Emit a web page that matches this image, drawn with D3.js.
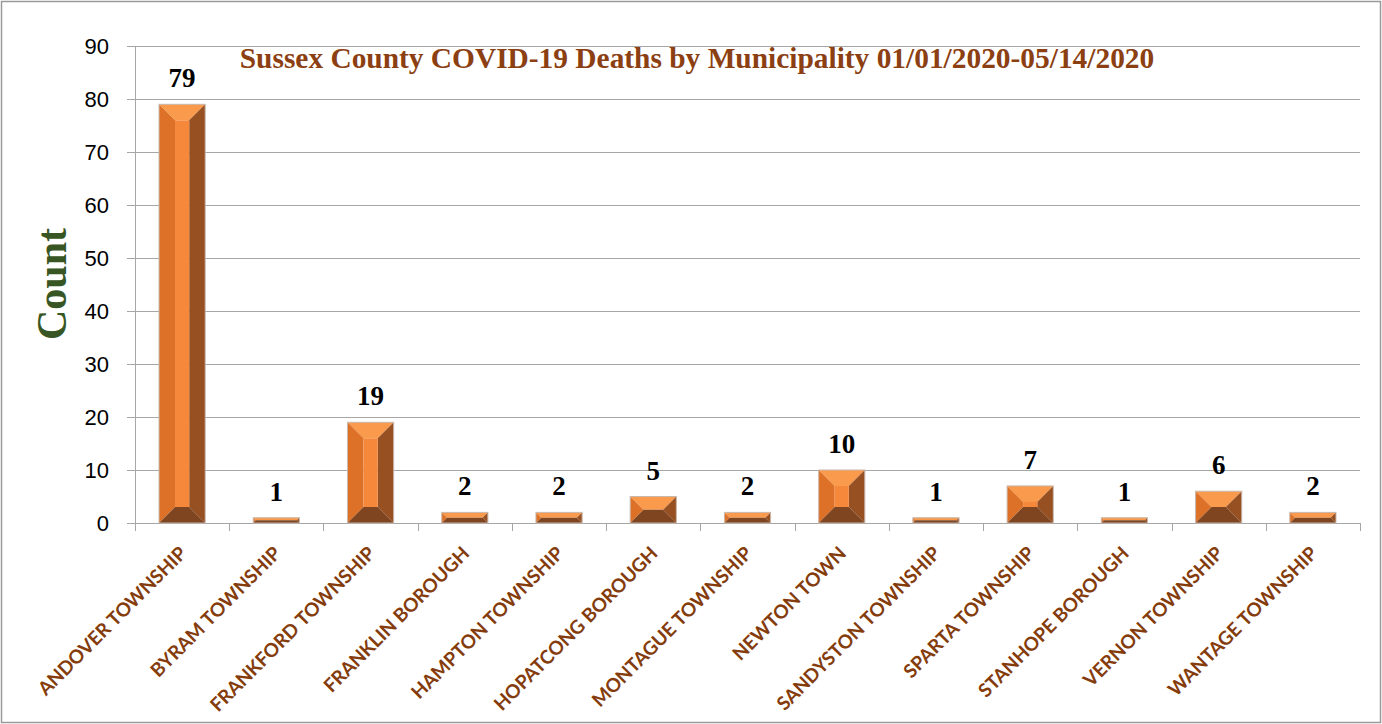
<!DOCTYPE html>
<html>
<head>
<meta charset="utf-8">
<script src="https://cdn.jsdelivr.net/npm/d3@7"></script>
<style>
  html, body { margin: 0; padding: 0; background: #fff; }
  svg { display: block; }
</style>
</head>
<body>
<svg id="chart" width="1382" height="724"></svg>
<script>
const categories = [
  "ANDOVER TOWNSHIP", "BYRAM TOWNSHIP", "FRANKFORD TOWNSHIP", "FRANKLIN BOROUGH",
  "HAMPTON TOWNSHIP", "HOPATCONG BOROUGH", "MONTAGUE TOWNSHIP", "NEWTON TOWN",
  "SANDYSTON TOWNSHIP", "SPARTA TOWNSHIP", "STANHOPE BOROUGH", "VERNON TOWNSHIP",
  "WANTAGE TOWNSHIP"
];
const deaths = [79, 1, 19, 2, 2, 5, 2, 10, 1, 7, 1, 6, 2];
const yTicks = [0, 10, 20, 30, 40, 50, 60, 70, 80, 90];
const chartTitle = "Sussex County COVID-19 Deaths by Municipality 01/01/2020-05/14/2020";
const yTitle = "Count";

const svg = d3.select("#chart");
const W = 1382, H = 724;
const plot = { left: 135, right: 1360, top: 46, bottom: 523 };

// chart border
svg.append("rect")
  .attr("x", 1.5).attr("y", 1.5)
  .attr("width", W - 3).attr("height", H - 3)
  .attr("fill", "#fff").attr("stroke", "#9a9a9a").attr("stroke-width", 1.5);

const x = d3.scaleBand().domain(categories).range([plot.left, plot.right]).paddingInner(0.51).paddingOuter(0.255);
const xTick = d3.scaleLinear().domain([0, categories.length]).range([plot.left, plot.right]);
const y = d3.scaleLinear().domain([0, 90]).range([plot.bottom, plot.top]);

// gridlines
svg.append("g")
  .selectAll("line").data(yTicks).join("line")
  .attr("x1", plot.left - 8).attr("x2", plot.right)
  .attr("y1", d => Math.round(y(d)) + 0.5).attr("y2", d => Math.round(y(d)) + 0.5)
  .attr("stroke", "#a6a6a6").attr("stroke-width", 1);

// y axis line
svg.append("line")
  .attr("x1", plot.left + 0.5).attr("x2", plot.left + 0.5)
  .attr("y1", plot.top).attr("y2", plot.bottom)
  .attr("stroke", "#a6a6a6");

// x axis ticks between categories
svg.append("g")
  .selectAll("line").data(d3.range(categories.length + 1)).join("line")
  .attr("x1", d => Math.round(xTick(d)) + 0.5).attr("x2", d => Math.round(xTick(d)) + 0.5)
  .attr("y1", plot.bottom).attr("y2", plot.bottom + 8)
  .attr("stroke", "#a6a6a6");

// y tick labels
svg.append("g")
  .selectAll("text").data(yTicks).join("text")
  .attr("x", 109).attr("y", d => y(d))
  .attr("dy", "0.36em")
  .attr("text-anchor", "end")
  .attr("font-family", "'Liberation Sans', Arial, sans-serif")
  .attr("font-size", 22)
  .attr("fill", "#000")
  .text(d => d);

// bars with bevel
const colors = {
  front: "#f5883a",
  left: "#dd7128",
  right: "#975022",
  top: "#f99a4c",
  bottom: "#7e4520"
};
const bars = svg.append("g");
categories.forEach((c, i) => {
  const v = deaths[i];
  const x0 = x(c), x1 = x(c) + x.bandwidth();
  const y0 = y(v), y1 = y(0);
  const w = x1 - x0, h = y1 - y0;
  const b = Math.min(16, w / 2 - 4, h / 2);
  const ix0 = x0 + b, ix1 = x1 - b, iy0 = y0 + b, iy1 = y1 - b;
  const g = bars.append("g");
  const poly = (pts, fill) => g.append("polygon")
    .attr("points", pts.map(p => p.join(",")).join(" "))
    .attr("fill", fill);
  poly([[x0, y0], [x1, y0], [ix1, iy0], [ix0, iy0]], colors.top);
  poly([[x0, y0], [ix0, iy0], [ix0, iy1], [x0, y1]], colors.left);
  poly([[x1, y0], [x1, y1], [ix1, iy1], [ix1, iy0]], colors.right);
  poly([[x0, y1], [ix0, iy1], [ix1, iy1], [x1, y1]], colors.bottom);
  g.append("rect").attr("x", ix0).attr("y", iy0)
    .attr("width", Math.max(0, ix1 - ix0)).attr("height", Math.max(0, iy1 - iy0))
    .attr("fill", colors.front);
  g.append("rect").attr("x", x0).attr("y", y0).attr("width", w).attr("height", h)
    .attr("fill", "none").attr("stroke", "#c9b8ad").attr("stroke-width", 1);
});

// data labels
svg.append("g")
  .selectAll("text").data(categories).join("text")
  .attr("x", d => x(d) + x.bandwidth() / 2)
  .attr("y", (d, i) => y(deaths[i]) - 17)
  .attr("text-anchor", "middle")
  .attr("font-family", "'Liberation Serif', 'Times New Roman', serif")
  .attr("font-weight", "bold")
  .attr("font-size", 27)
  .attr("fill", "#000")
  .text((d, i) => deaths[i]);

// x labels rotated
svg.append("g")
  .selectAll("text").data(categories).join("text")
  .attr("transform", d => `translate(${x(d) + x.bandwidth() / 2 + 1},${plot.bottom + 27}) rotate(-45)`)
  .attr("text-anchor", "end")
  .attr("dy", "0.35em")
  .attr("font-family", "Lato, 'Open Sans', sans-serif")
  .attr("font-weight", "bold")
  .attr("font-size", 19)
  .attr("fill", "#843c0c")
  .text(d => d);

// title
svg.append("text")
  .attr("x", 697).attr("y", 68)
  .attr("text-anchor", "middle")
  .attr("font-family", "'Liberation Serif', 'Times New Roman', serif")
  .attr("font-weight", "bold")
  .attr("font-size", 29.4)
  .attr("fill", "#8b3f12")
  .text(chartTitle);

// y axis title
svg.append("text")
  .attr("transform", `translate(66,284) rotate(-90)`)
  .attr("text-anchor", "middle")
  .attr("font-family", "'Liberation Serif', 'Times New Roman', serif")
  .attr("font-weight", "bold")
  .attr("font-size", 42)
  .attr("fill", "#375623")
  .text(yTitle);
</script>
</body>
</html>
